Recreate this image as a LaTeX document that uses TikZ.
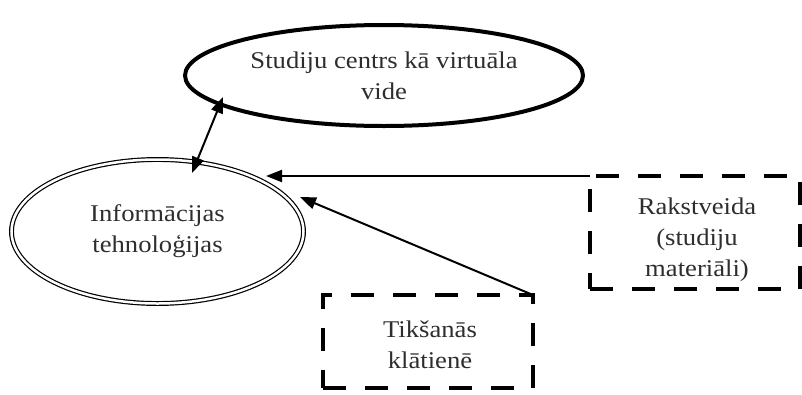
\documentclass[tikz,border=0pt]{standalone}
\usepackage{fontspec}
\setmainfont{Liberation Serif}[FakeStretch=1.11]
\usetikzlibrary{shapes.geometric,arrows.meta}
\definecolor{txtgray}{HTML}{2E2E2E}
\begin{document}
\begin{tikzpicture}[x=1pt,y=-1pt,
  txt/.style={font=\fontsize{24}{31}\selectfont, text=txtgray, align=center, inner sep=0pt},
  oval/.style={ellipse, draw, inner sep=0pt, outer sep=0pt, font=\fontsize{24}{31}\selectfont, text=txtgray, align=center},
  dbox/.style={draw, line width=4.5pt, dash pattern=on 23pt off 19pt, inner sep=0pt, outer sep=0pt},
  tip/.tip={Triangle[length=16pt,width=12pt]},
  arr/.style={line width=2pt, -tip},
  darr/.style={line width=2pt, tip-tip},
]
\useasboundingbox (0,0) rectangle (802,394);
\fill[white] (0,0) rectangle (802,394);

\node[oval, line width=4pt, minimum width=398pt, minimum height=101pt] (vc) at (384,75.5)
  {Studiju centrs kā virtuāla\\vide};
\node[oval, double, double distance=2.5pt, line width=1.2pt, minimum width=292pt, minimum height=144pt] (it) at (157.5,231.5)
  {Informācijas\\tehnoloģijas};

\node[dbox, minimum width=210pt, minimum height=113pt] (rk) at (695,232.5) {};
\node[txt] (rkt) at (697,240) {Rakstveida\\(studiju\\materiāli)};

\node[dbox, minimum width=210pt, minimum height=93pt] (tk) at (428,341.5) {};
\node[txt] (tkt) at (430,345) {Tikšanās\\klātienē};

\coordinate (h1) at (266,176);
\coordinate (h2) at (300,197);
\coordinate (d1) at (192,173);
\coordinate (d2) at (223,97);

\draw[arr] (rk.north west) -- (h1);
\draw[arr] (tk.north east) -- (h2);
\draw[darr] (d1) -- (d2);
\end{tikzpicture}
\end{document}
